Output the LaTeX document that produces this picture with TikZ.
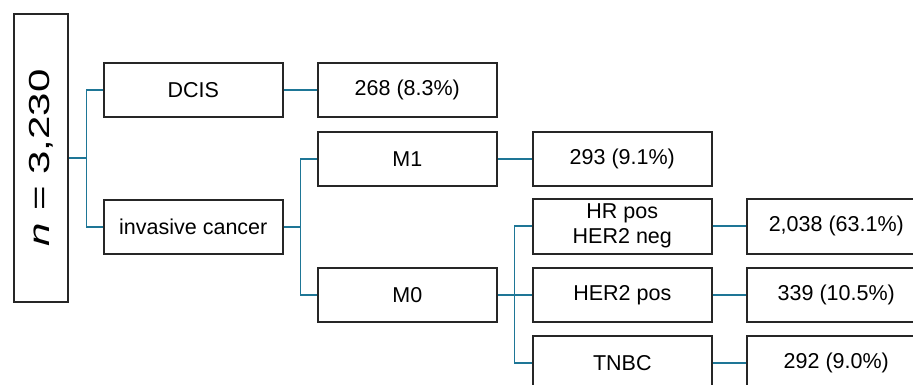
\documentclass[tikz,border=0pt]{standalone}
\usepackage{fontspec}
\setmainfont{Liberation Sans}
\definecolor{linkblue}{RGB}{30,118,150}
\begin{document}
\begin{tikzpicture}[x=1pt,y=-1pt,
  box/.style={draw=black!85, line width=1.6pt, minimum width=179pt, minimum height=54pt, inner sep=0pt,
    font=\fontsize{21.5}{26}\selectfont, align=center, anchor=north west},
  link/.style={draw=linkblue, line width=1.7pt}]
\clip (0,0) rectangle (913,385);
\fill[white] (0,0) rectangle (913,385);
\node[draw=black!85, line width=1.6pt, minimum width=54pt, minimum height=288pt, inner sep=0pt, anchor=north west]
  (n) at (13,13) {\rotatebox{90}{\scalebox{1.45}[1]{\fontsize{29}{32}\selectfont\textit{n} = 3,230}}};
\node[box] (dcis) at (103,62) {DCIS};
\node[box] (inv) at (103,199) {invasive cancer};
\node[box] (c268) at (317,62) {268 (8.3\%)};
\node[box] (m1) at (317,131) {M1};
\node[box] (m0) at (317,267) {M0};
\node[box] (c293) at (532,131) {293 (9.1\%)};
\node[box, minimum height=55pt] (hr) at (532,198) {HR pos\\[-1pt]HER2 neg};
\node[box] (her2) at (532,267) {HER2 pos};
\node[box] (tnbc) at (532,335) {TNBC};
\node[box, minimum height=55pt] (r1) at (746,198) {2,038 (63.1\%)};
\node[box] (r2) at (746,267) {339 (10.5\%)};
\node[box] (r3) at (746,335) {292 (9.0\%)};
\draw[link] (n.east) -- ++(18,0) coordinate (b1);
\draw[link] (dcis.west) -| (b1) |- (inv.west);
\draw[link] (inv.east) -- ++(17,0) coordinate (b2);
\draw[link] (m1.west) -| (b2) |- (m0.west);
\draw[link] (m0.east) -- ++(17,0) coordinate (b3);
\draw[link] (hr.west) -| (b3) |- (tnbc.west);
\draw[link] (b3) -- (her2.west);
\draw[link] (dcis.east) -- (c268.west);
\draw[link] (m1.east) -- (c293.west);
\draw[link] (hr.east) -- (r1.west);
\draw[link] (her2.east) -- (r2.west);
\draw[link] (tnbc.east) -- (r3.west);
\end{tikzpicture}
\end{document}
